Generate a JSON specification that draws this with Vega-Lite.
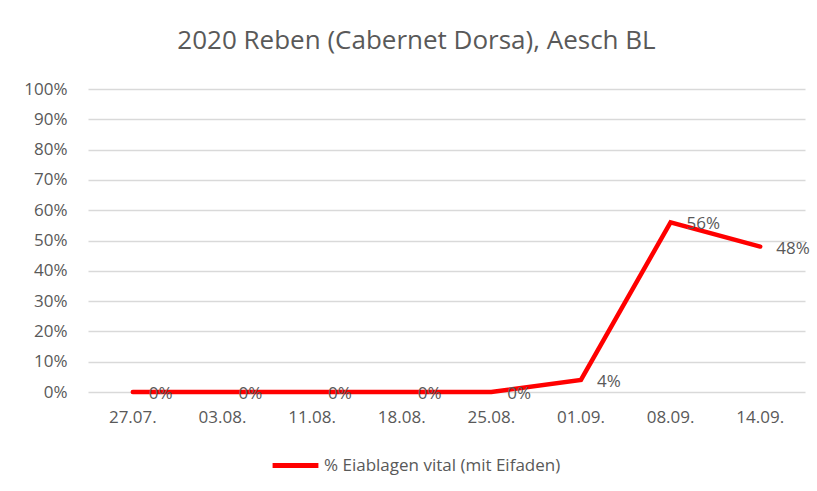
{
  "$schema": "https://vega.github.io/schema/vega-lite/v6.json",
  "width": 717,
  "height": 303,
  "autosize": {"type": "none"},
  "padding": {"left": 88, "top": 89, "right": 12, "bottom": 99},
  "background": "#ffffff",
  "title": {
    "text": "2020 Reben (Cabernet Dorsa), Aesch BL",
    "font": "Open Sans",
    "fontSize": 26,
    "fontWeight": "normal",
    "color": "#595959",
    "anchor": "middle",
    "dx": -30,
    "baseline": "alphabetic",
    "offset": 5
  },
  "data": {
    "values": [
      {"datum": "27.07.", "value": 0, "series": "% Eiablagen vital (mit Eifaden)"},
      {"datum": "03.08.", "value": 0, "series": "% Eiablagen vital (mit Eifaden)"},
      {"datum": "11.08.", "value": 0, "series": "% Eiablagen vital (mit Eifaden)"},
      {"datum": "18.08.", "value": 0, "series": "% Eiablagen vital (mit Eifaden)"},
      {"datum": "25.08.", "value": 0, "series": "% Eiablagen vital (mit Eifaden)"},
      {"datum": "01.09.", "value": 0.04, "series": "% Eiablagen vital (mit Eifaden)"},
      {"datum": "08.09.", "value": 0.56, "series": "% Eiablagen vital (mit Eifaden)"},
      {"datum": "14.09.", "value": 0.48, "series": "% Eiablagen vital (mit Eifaden)"}
    ]
  },
  "encoding": {
    "x": {
      "field": "datum",
      "type": "ordinal",
      "sort": null,
      "scale": {"type": "band", "paddingInner": 0, "paddingOuter": 0},
      "axis": {
        "title": null,
        "labelAngle": 0,
        "ticks": false,
        "domain": false,
        "labelPadding": 17,
        "labelFont": "Open Sans",
        "labelFontSize": 17,
        "labelColor": "#595959"
      }
    },
    "y": {
      "field": "value",
      "type": "quantitative",
      "scale": {"domain": [0, 1], "nice": false},
      "axis": {
        "title": null,
        "values": [0, 0.1, 0.2, 0.3, 0.4, 0.5, 0.6, 0.7, 0.8, 0.9, 1],
        "format": ".0%",
        "ticks": false,
        "domain": false,
        "grid": true,
        "gridColor": "#d9d9d9",
        "gridWidth": 1.3,
        "labelPadding": 21,
        "labelFont": "Open Sans",
        "labelFontSize": 17,
        "labelColor": "#595959"
      }
    }
  },
  "layer": [
    {
      "mark": {"type": "line", "strokeWidth": 4.5, "strokeCap": "round", "strokeJoin": "miter"},
      "encoding": {
        "color": {
          "field": "series",
          "type": "nominal",
          "scale": {"range": ["#ff0000"]},
          "legend": {
            "title": null,
            "orient": "none",
            "legendX": 182,
            "legendY": 351,
            "symbolType": "stroke",
            "symbolSize": 2100,
            "symbolStrokeWidth": 5,
            "labelFont": "Open Sans",
            "labelFontSize": 17,
            "labelLimit": 400,
            "labelColor": "#595959",
            "labelOffset": 3,
            "padding": 0
          }
        }
      }
    },
    {
      "mark": {
        "type": "text",
        "align": "left",
        "baseline": "middle",
        "dx": 16,
        "dy": 2,
        "font": "Open Sans",
        "fontSize": 17,
        "color": "#595959"
      },
      "encoding": {
        "text": {"field": "value", "type": "quantitative", "format": ".0%"}
      }
    }
  ],
  "config": {"view": {"stroke": null}}
}
